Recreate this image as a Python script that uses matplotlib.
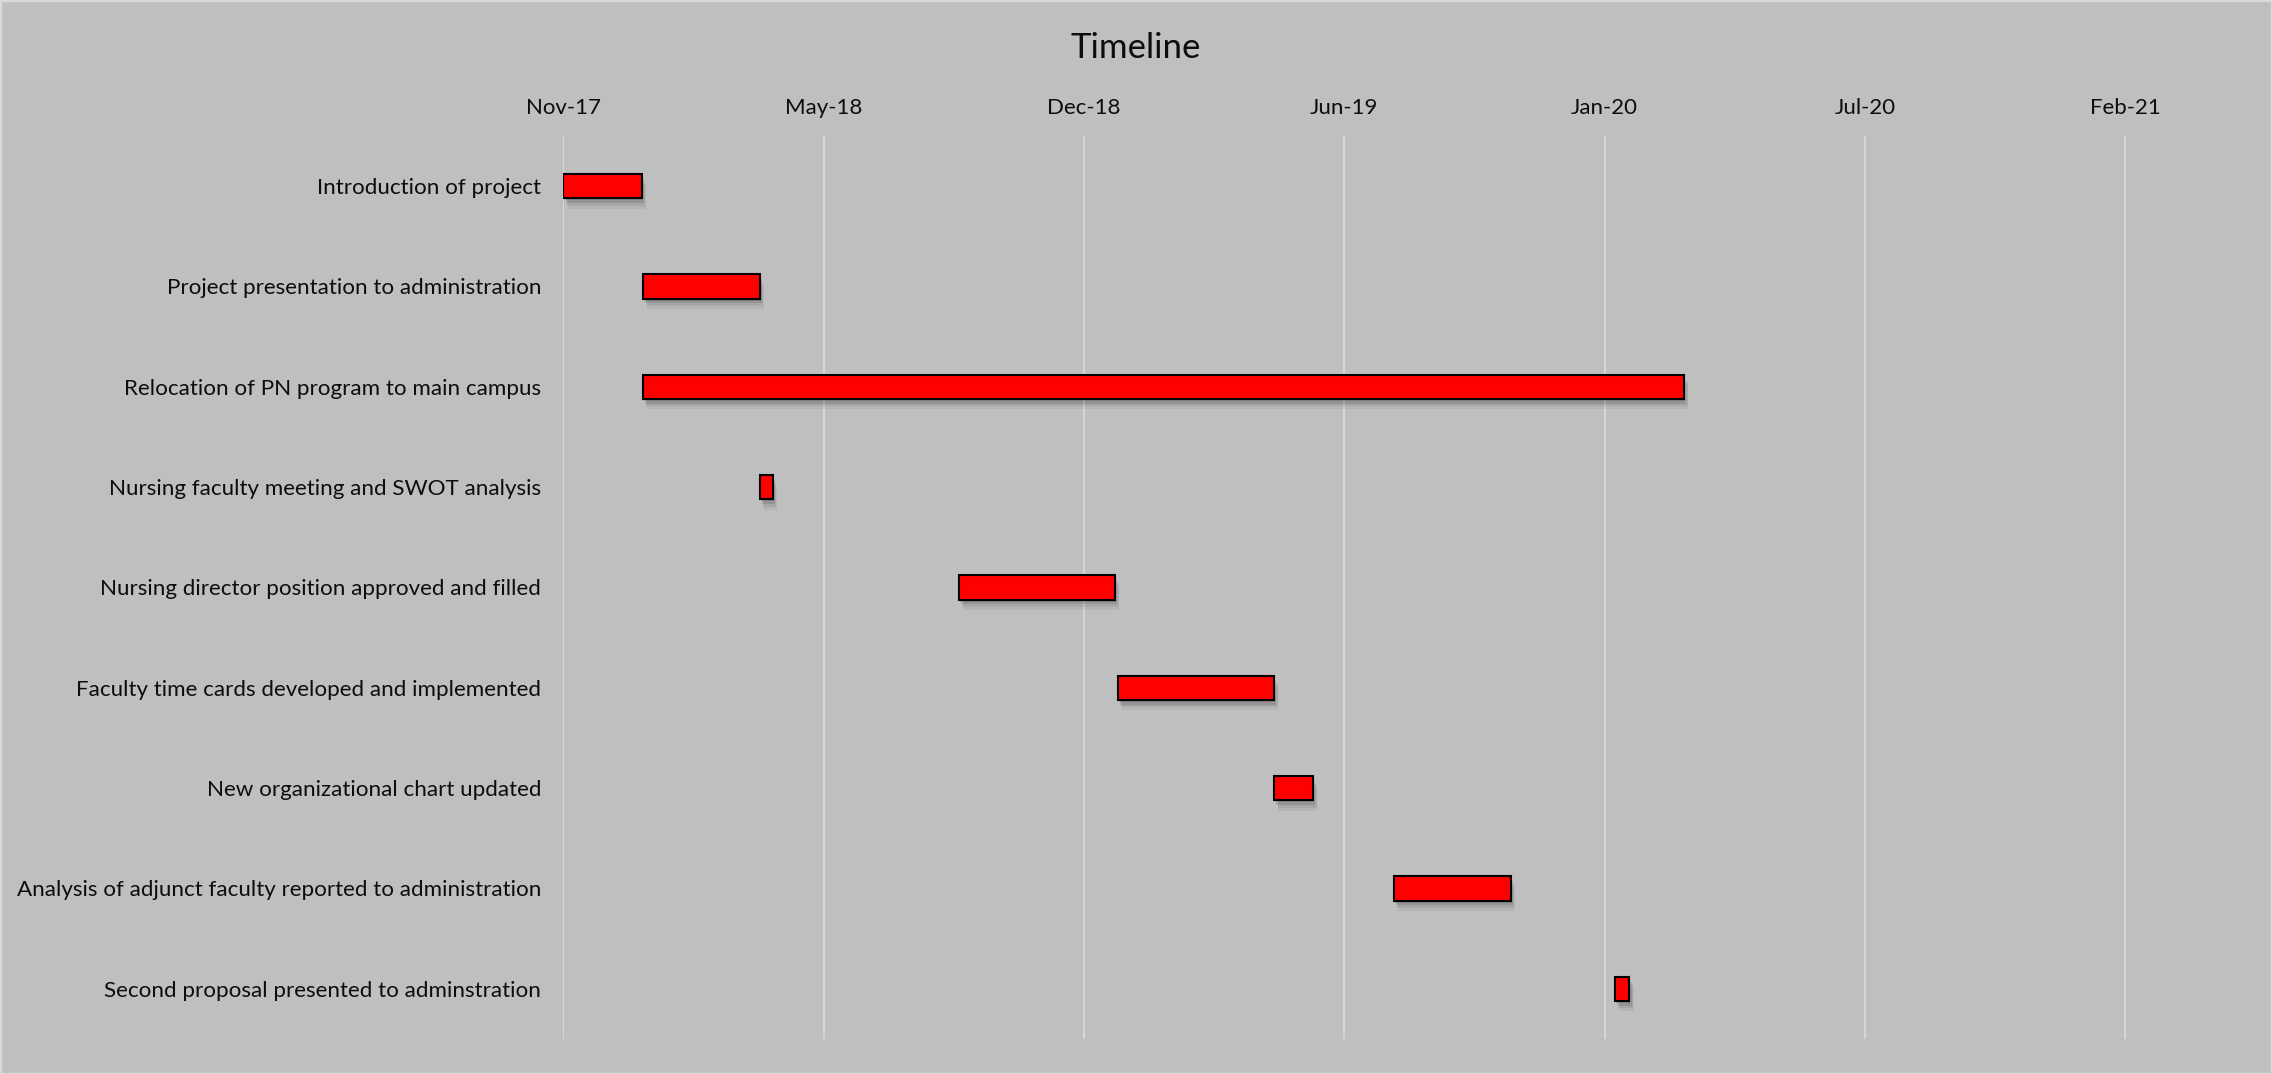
import matplotlib
matplotlib.use("Agg")
import matplotlib.pyplot as plt
import matplotlib.dates as mdates
import matplotlib.patheffects as pe
from matplotlib.patches import Rectangle
import pandas as pd

# data
tasks = [
    "Introduction of project",
    "Project presentation to administration",
    "Relocation of PN program to main campus",
    "Nursing faculty meeting and SWOT analysis",
    "Nursing director position approved and filled",
    "Faculty time cards developed and implemented",
    "New organizational chart updated",
    "Analysis of adjunct faculty reported to administration",
    "Second proposal presented to adminstration",
]
start_dates = ["2017-11-01", "2018-01-01", "2018-01-01", "2018-04-01", "2018-09-01",
               "2019-01-01", "2019-05-01", "2019-08-01", "2020-01-18"]
durations = [60, 90, 800, 10, 120, 120, 30, 90, 11]  # days

tick_dates = ["2017-11-01", "2018-05-20", "2018-12-06", "2019-06-24",
              "2020-01-10", "2020-07-28", "2021-02-13"]
tick_labels = ["Nov-17", "May-18", "Dec-18", "Jun-19", "Jan-20", "Jul-20", "Feb-21"]
axis_start = "2017-11-01"
axis_end = "2021-05-14"

bg = "#bfbfbf"
plt.rcParams["font.family"] = ["Lato", "DejaVu Sans"]

fig = plt.figure(figsize=(22.72, 10.74), dpi=100, facecolor=bg)
ax = fig.add_axes([0.248, 0.0326, 0.739, 0.8408])
ax.set_facecolor(bg)

starts = mdates.date2num(pd.to_datetime(start_dates))
y = range(len(tasks))

# soft drop shadow, a few offset layers
shadow = [
    pe.SimplePatchShadow(offset=(0.5, -1.5), shadow_rgbFace="k", alpha=0.12),
    pe.SimplePatchShadow(offset=(1.5, -3.5), shadow_rgbFace="k", alpha=0.10),
    pe.SimplePatchShadow(offset=(2.5, -5.5), shadow_rgbFace="k", alpha=0.08),
    pe.SimplePatchShadow(offset=(3.0, -7.5), shadow_rgbFace="k", alpha=0.05),
    pe.Normal(),
]
bars = ax.barh(y, durations, left=starts, height=0.24, color="#ff0000",
               edgecolor="black", linewidth=1.5, zorder=3)
for b in bars:
    b.set_path_effects(shadow)

ax.set_ylim(len(tasks) - 0.5, -0.5)
ax.set_yticks(list(y))
ax.set_yticklabels(tasks, fontsize=16.1, color="#0d0d0d")

ax.set_xlim(mdates.date2num(pd.Timestamp(axis_start)), mdates.date2num(pd.Timestamp(axis_end)))
ax.set_xticks(mdates.date2num(pd.to_datetime(tick_dates)))
ax.set_xticklabels(tick_labels, fontsize=16, color="#0d0d0d")
ax.xaxis.tick_top()
ax.tick_params(axis="both", length=0)
ax.tick_params(axis="x", pad=13)
ax.tick_params(axis="y", pad=16)
ax.grid(axis="x", color="#d9d9d9", linewidth=1.3, zorder=0)
ax.set_axisbelow(True)
for s in ax.spines.values():
    s.set_visible(False)

fig.text(0.5, 0.955, "Timeline", ha="center", va="center", fontsize=25, color="#0d0d0d")
fig.patches.append(Rectangle((0, 0), 1, 1, transform=fig.transFigure, fill=False,
                             edgecolor="#d9d9d9", linewidth=2.5))

fig.savefig("out.png", dpi=100, facecolor=bg)
